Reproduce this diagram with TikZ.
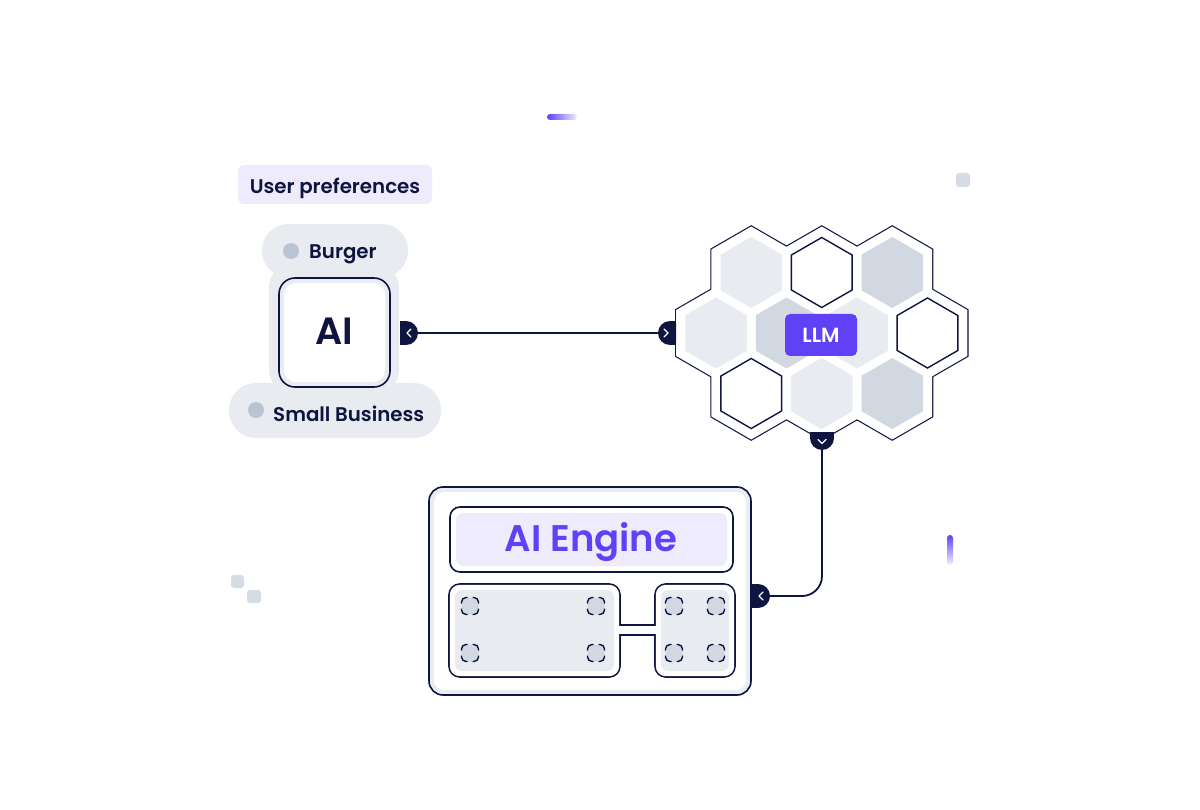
\documentclass[tikz,border=0pt]{standalone}
\usepackage{fontspec}
\setmainfont{Poppins}
\newfontfamily\semib{Poppins SemiBold}
\definecolor{navy}{HTML}{0F1541}
\definecolor{lg}{HTML}{E8EBF0}
\definecolor{dg}{HTML}{D1D8E2}
\definecolor{band}{HTML}{E9ECF1}
\definecolor{lav}{HTML}{EEEBFD}
\definecolor{purp}{HTML}{6041F5}
\definecolor{bul}{HTML}{B9C3D3}
\definecolor{deco}{HTML}{D5DCE6}
\tikzset{
  outl/.style={draw=navy, line width=1.6pt},
  conn/.style={draw=navy, line width=1.8pt},
  chev/.style={draw=white, line width=1.4pt, line cap=round, line join=round},
  lbl/.style={font=\semib\fontsize{19.8}{23}\selectfont, text=navy, inner sep=0pt},
  cmark/.pic={
    \fill[dg, rounded corners=4.5pt] (-8.5,-8.5) rectangle (8.5,8.5);
    \draw[navy, line width=1.4pt, rounded corners=4.5pt]
      (-8.5,-2.5) -- (-8.5,-8.5) -- (-2.5,-8.5)
      (2.5,-8.5) -- (8.5,-8.5) -- (8.5,-2.5)
      (8.5,2.5) -- (8.5,8.5) -- (2.5,8.5)
      (-2.5,8.5) -- (-8.5,8.5) -- (-8.5,2.5);
  }
}
\begin{document}
\begin{tikzpicture}[x=1pt,y=-1pt]
\useasboundingbox (0,0) rectangle (1200,810);
\fill[white] (0,0) rectangle (1200,810);

% decorations
\shade[left color=purp, right color=lav, rounded corners=3pt] (547,114) rectangle (577,120);
\shade[top color=purp, bottom color=lav!70!white, rounded corners=3pt] (947,535) rectangle (953,565);
\fill[deco, rounded corners=3pt] (231,575) rectangle (244,588);
\fill[deco, rounded corners=3pt] (247,590) rectangle (261,603);
\fill[deco, rounded corners=3pt] (956,173) rectangle (970,187);

% user preferences
\fill[lav, rounded corners=6pt] (238,165) rectangle (432,204);
\node[lbl] (up) at (335,188.5) {User preferences};

% AI block
\fill[lg, rounded corners=22pt] (269,265) rectangle (399,392);
\fill[lg, rounded corners=26pt] (262,224) rectangle (408,277);
\fill[lg, rounded corners=27pt] (229,383) rectangle (441,438);
\fill[bul] (291,251) circle (8pt);
\fill[bul] (256,410) circle (8pt);
\node[lbl, anchor=west] (burger) at (309,254) {Burger};
\node[lbl, anchor=west] (sb) at (273,414) {Small Business};
\draw[outl, fill=band, rounded corners=16pt] (279,278) rectangle (390,387);
\fill[white, rounded corners=12pt] (284,283) rectangle (385,382);
\node[font=\semib\fontsize{38}{40}\selectfont, text=navy, inner sep=0pt] (ai) at (334,331.5) {AI};

% hex cluster outline
\foreach \x/\y in {751.25/272.5, 821.75/272.5, 892.25/272.5, 716/333, 786.5/333, 857/333, 927.5/333, 751.25/393.5, 821.75/393.5, 892.25/393.5}
  \draw[navy, line width=3.2pt, line join=miter] (\x,\y) +(90:45.5pt) -- +(30:45.5pt) -- +(-30:45.5pt) -- +(-90:45.5pt) -- +(-150:45.5pt) -- +(150:45.5pt) -- cycle;
\foreach \x/\y in {751.25/272.5, 821.75/272.5, 892.25/272.5, 716/333, 786.5/333, 857/333, 927.5/333, 751.25/393.5, 821.75/393.5, 892.25/393.5}
  \fill[white] (\x,\y) +(90:46pt) -- +(30:46pt) -- +(-30:46pt) -- +(-90:46pt) -- +(-150:46pt) -- +(150:46pt) -- cycle;
% inner hexes
\foreach \x/\y/\c in {751.25/272.5/lg, 892.25/272.5/dg, 716/333/lg, 786.5/333/dg, 857/333/lg, 821.75/393.5/lg, 892.25/393.5/dg}
  \fill[\c] (\x,\y) +(90:35.5pt) -- +(30:35.5pt) -- +(-30:35.5pt) -- +(-90:35.5pt) -- +(-150:35.5pt) -- +(150:35.5pt) -- cycle;
\foreach \x/\y in {821.75/272.5, 927.5/333, 751.25/393.5}
  \draw[navy, fill=white, line width=1.4pt] (\x,\y) +(90:35pt) -- +(30:35pt) -- +(-30:35pt) -- +(-90:35pt) -- +(-150:35pt) -- +(150:35pt) -- cycle;
\fill[purp, rounded corners=5pt] (785,314) rectangle (857,356);
\node[font=\semib\fontsize{20.5}{23}\selectfont, text=white, inner sep=0pt] (llm) at (821,335.5) {LLM};

% AI Engine box
\draw[outl, fill=band, rounded corners=14pt] (429,487) rectangle (751,695);
\fill[white, rounded corners=10pt] (434,492) rectangle (746,690);
\draw[outl, fill=white, rounded corners=10pt] (450,507) rectangle (733,572);
\fill[lav, rounded corners=7pt] (456,513) rectangle (727,566);
\node[font=\semib\fontsize{37}{40}\selectfont, text=purp, inner sep=0pt] (eng) at (591,542) {AI Engine};
% lower panels
\draw[navy, line width=3.2pt, rounded corners=10pt] (449.8,584.8) rectangle (619.2,676.2);
\draw[navy, line width=3.2pt, rounded corners=10pt] (655.8,584.8) rectangle (734.2,676.2);
\draw[navy, line width=3.2pt] (615,625.8) rectangle (660,634.2);
\fill[white, rounded corners=10pt] (449.8,584.8) rectangle (619.2,676.2);
\fill[white, rounded corners=10pt] (655.8,584.8) rectangle (734.2,676.2);
\fill[white] (615,625.8) rectangle (660,634.2);
\fill[lg, rounded corners=7pt] (455,590) rectangle (614,671);
\fill[lg, rounded corners=7pt] (661,590) rectangle (729,671);
\foreach \x/\y in {470/606, 596/606, 470/653, 596/653, 674/606, 716/606, 674/653, 716/653}
  \pic at (\x,\y) {cmark};

% tabs
\begin{scope}
  \clip (400,300) rectangle (430,360);
  \fill[navy] (406,333) circle (12pt);
  \fill[navy] (400,321) rectangle (406,345);
\end{scope}
\draw[chev] (411,329) -- (407,333) -- (411,337);
\begin{scope}
  \clip (640,300) rectangle (676,360);
  \fill[navy] (670,333) circle (12pt);
  \fill[navy] (670,321) rectangle (676,345);
\end{scope}
\draw[chev] (664,329) -- (668,333) -- (664,337);
\begin{scope}
  \clip (800,432) rectangle (845,460);
  \fill[navy] (822,438) circle (12pt);
  \fill[navy] (810,432) rectangle (834,438);
\end{scope}
\draw[chev] (818,439.5) -- (822,443.5) -- (826,439.5);
\begin{scope}
  \clip (751,570) rectangle (780,620);
  \fill[navy] (758,596) circle (12pt);
  \fill[navy] (751,584) rectangle (758,608);
\end{scope}
\draw[chev] (763,592) -- (759,596) -- (763,600);

% connectors
\coordinate (aiR) at (418,333);
\coordinate (hexL) at (658,333);
\coordinate (hexB) at (822,450);
\coordinate (engR) at (770,596);
\draw[conn] (aiR) -- (hexL);
\draw[conn, rounded corners=20pt] (hexB) |- (engR);
\end{tikzpicture}
\end{document}
